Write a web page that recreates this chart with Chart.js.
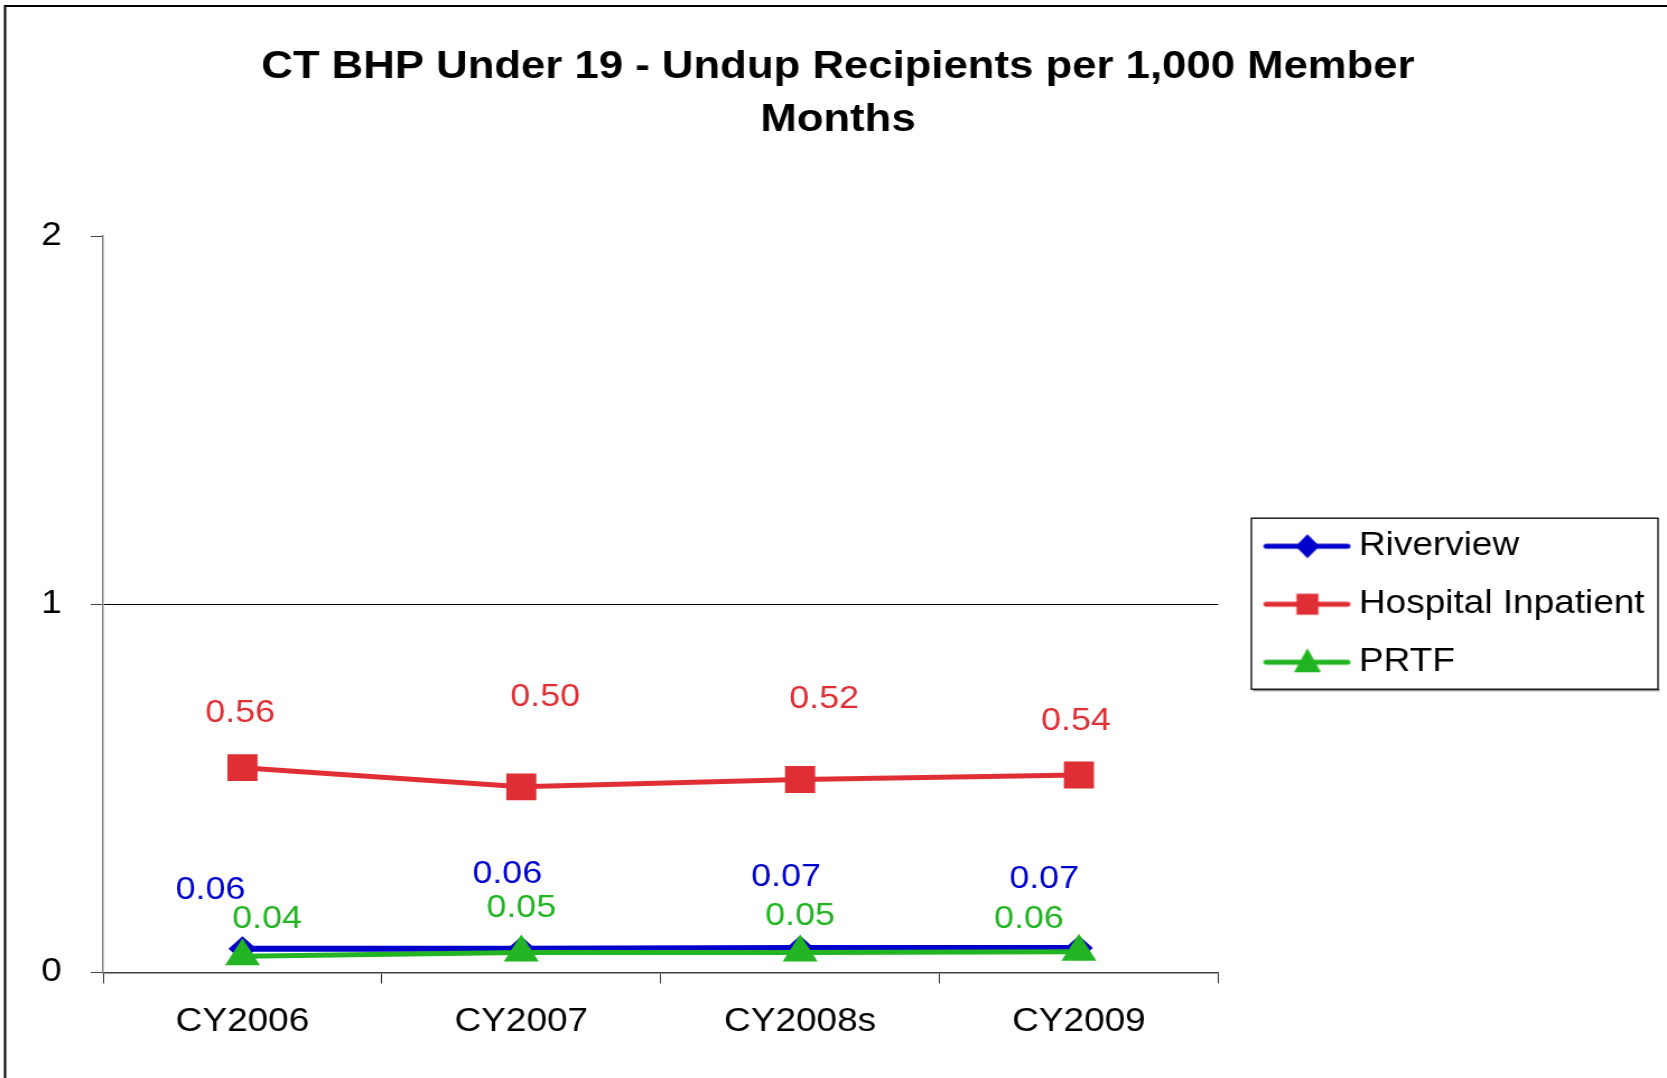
<!DOCTYPE html>
<html><head><meta charset="utf-8">
<script src="https://cdn.jsdelivr.net/npm/chart.js@4.4.1/dist/chart.umd.min.js"></script>
<style>html,body{margin:0;padding:0;background:#fff;overflow:hidden}canvas{display:block}</style>
</head><body>
<canvas id="c" width="1488" height="1078" style="width:1667px;height:1078px"></canvas>
<script>
// ---- data ----
const categories = ['CY2006', 'CY2007', 'CY2008s', 'CY2009'];
const riverview = [0.064, 0.064, 0.066, 0.066];
const hospitalInpatient = [0.556, 0.504, 0.524, 0.536];
const prtf = [0.044, 0.054, 0.054, 0.056];
const seriesNames = ['Riverview', 'Hospital Inpatient', 'PRTF'];
const yTicks = [0, 1, 2];
const titleLines = ['CT BHP Under 19 - Undup Recipients per 1,000 Member', 'Months'];

// ---- styles ----
const FONT = "'Liberation Sans', Arial, sans-serif";
const BLUE = '#0000CC', RED = '#DF2F35', GREEN = '#22B422';
// label offsets (px) relative to each point, per series
const labelOffsets = [
  [[-28.5, -59], [-12.5, -75], [-12.5, -71], [-31, -69]],
  [[-2, -55], [21.4, -90], [21.4, -80], [-2.7, -54]],
  [[22, -37], [0, -44], [0, -36], [-44.6, -32.5]]
];

function makeIcon(color, shape) {
  const c = document.createElement('canvas');
  c.width = 90; c.height = 40;
  const g = c.getContext('2d');
  g.strokeStyle = color; g.lineWidth = 5; g.lineCap = 'round';
  g.beginPath(); g.moveTo(3.7, 20); g.lineTo(76.4, 20); g.stroke();
  g.fillStyle = color; g.beginPath();
  const mx = 40.5, my = 20;
  if (shape === 'diamond') { g.moveTo(mx, my - 12); g.lineTo(mx + 10.7, my); g.lineTo(mx, my + 12); g.lineTo(mx - 10.7, my); }
  else if (shape === 'square') { g.rect(mx - 9.8, my - 10.5, 19.6, 21); }
  else { g.moveTo(mx, my - 14); g.lineTo(mx + 12, my + 10); g.lineTo(mx - 12, my + 10); }
  g.closePath(); g.fill();
  return c;
}
const legendIcons = [makeIcon(BLUE, 'diamond'), makeIcon(RED, 'square'), makeIcon(GREEN, 'triangle')];

const framePlugin = {
  id: 'frame',
  beforeDraw(chart) {
    const ctx = chart.ctx;
    ctx.save();
    ctx.strokeStyle = '#000'; ctx.lineWidth = 2;
    ctx.strokeRect(4.5, 6, chart.width + 20, chart.height + 20);
    ctx.restore();
  }
};

const layoutShift = {
  id: 'layoutShift',
  afterLayout(chart) {
    const L = chart.legend;
    if (L) {
      const d = (chart.chartArea.right + 34) - L.left;
      L.left += d; L.right += d;
    }
    const T = chart.titleBlock;
    if (T) { T.left += 17; T.right += 17; }
  }
};

const legendBoxPlugin = {
  id: 'legendBox',
  afterDraw(chart) {
    const ctx = chart.ctx, ca = chart.chartArea;
    const left = ca.right + 29.5, w = 363, h = 171;
    const top = (ca.top + ca.bottom) / 2 - 86;
    ctx.save();
    ctx.fillStyle = '#9a9a9a';
    ctx.fillRect(left + 1.5, top + h, w, 2.2);
    ctx.strokeStyle = '#000'; ctx.lineWidth = 1.3;
    ctx.strokeRect(left, top, w, h);
    ctx.restore();
  }
};

const valueLabels = {
  id: 'valueLabels',
  afterDatasetsDraw(chart) {
    const ctx = chart.ctx;
    ctx.save();
    ctx.font = '32px ' + FONT;
    ctx.textAlign = 'center'; ctx.textBaseline = 'middle';
    chart.data.datasets.forEach((ds, di) => {
      const meta = chart.getDatasetMeta(di);
      meta.data.forEach((pt, i) => {
        const off = labelOffsets[di][i];
        ctx.fillStyle = ds.borderColor;
        ctx.fillText(ds.data[i].toFixed(2), pt.x + off[0], pt.y + off[1]);
      });
    });
    ctx.restore();
  }
};

new Chart(document.getElementById('c'), {
  type: 'line',
  data: {
    labels: categories,
    datasets: [
      { label: seriesNames[0], data: riverview, borderColor: BLUE, backgroundColor: BLUE, borderWidth: 6,
        pointStyle: 'rectRot', pointRadius: 12.5, pointBorderWidth: 0, pointBackgroundColor: BLUE, order: 2 },
      { label: seriesNames[1], data: hospitalInpatient, borderColor: RED, backgroundColor: RED, borderWidth: 5,
        pointStyle: 'rect', pointRadius: 19, pointBorderWidth: 0, pointBackgroundColor: RED, order: 1 },
      { label: seriesNames[2], data: prtf, borderColor: GREEN, backgroundColor: GREEN, borderWidth: 5,
        pointStyle: 'triangle', pointRadius: 18, pointBorderWidth: 0, pointBackgroundColor: GREEN, order: 0 }
    ]
  },
  options: {
    responsive: false,
    animation: false,
    devicePixelRatio: 1,
    layout: { padding: { top: 10, left: 18, right: 44, bottom: 17 } },
    scales: {
      x: {
        offset: true,
        grid: { offset: true, drawOnChartArea: false, drawTicks: true, tickLength: 11, tickColor: '#333', color: '#333' },
        border: { display: true, color: '#404040', width: 1.5 },
        ticks: { color: '#000', font: { size: 33, family: FONT }, padding: 19, maxRotation: 0, autoSkip: false }
      },
      y: {
        min: yTicks[0], max: yTicks[yTicks.length - 1],
        afterBuildTicks: s => { s.ticks = yTicks.map(v => ({ value: v })); },
        afterFit: s => { s.width = 74; },
        border: { display: true, color: '#808080', width: 1.5 },
        grid: {
          color: c => (c.tick && c.tick.value === 1) ? '#000' : 'rgba(0,0,0,0)',
          lineWidth: 1, tickColor: '#444', tickLength: 11, drawTicks: true
        },
        ticks: { color: '#000', font: { size: 33, family: FONT }, padding: 26, callback: v => String(v) }
      }
    },
    plugins: {
      title: {
        display: true, text: titleLines, color: '#000',
        font: { size: 39, weight: 'bold', family: FONT, lineHeight: 53 / 39 },
        padding: { top: 31, bottom: 89 }
      },
      legend: {
        position: 'right', fullSize: false, align: 'center',
        labels: {
          usePointStyle: true, pointStyleWidth: 50, padding: 25, color: '#000',
          font: { size: 33, family: FONT },
          generateLabels(chart) {
            const items = Chart.defaults.plugins.legend.labels.generateLabels(chart);
            items.sort((a, b) => a.datasetIndex - b.datasetIndex);
            items.forEach(it => { it.pointStyle = legendIcons[it.datasetIndex]; });
            return items;
          }
        }
      },
      tooltip: { enabled: false }
    }
  },
  plugins: [framePlugin, layoutShift, legendBoxPlugin, valueLabels]
});
</script>
</body></html>
